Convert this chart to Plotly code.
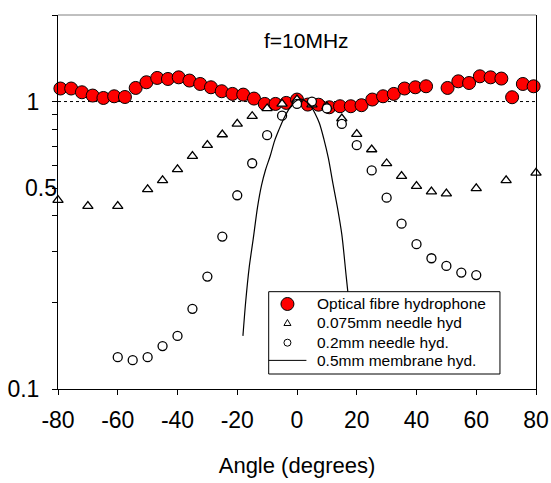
import numpy as np
import plotly.graph_objects as go

# ---- data ----
fibre_x = [-79.2, -75.6, -72.0, -68.4, -64.8, -61.2, -57.6, -54.0, -50.4, -46.8,
           -43.2, -39.6, -36.0, -32.4, -28.8, -25.2, -21.6, -18.0, -14.4, -10.8,
           -7.2, -3.6, 0.0, 3.6, 7.2, 10.8, 14.4, 18.0, 21.6, 25.2,
           28.8, 32.4, 36.0, 39.6, 43.2, 50.4, 54.0, 57.6, 61.2, 64.8,
           68.4, 72.0, 75.6, 79.2]
fibre_y = [1.11, 1.11, 1.077, 1.049, 1.029, 1.043, 1.037, 1.115, 1.167, 1.208,
           1.198, 1.214, 1.183, 1.151, 1.121, 1.086, 1.063, 1.057, 1.024, 0.981,
           0.981, 0.989, 1.016, 0.976, 0.975, 0.955, 0.963, 0.963, 0.971, 1.016,
           1.043, 1.063, 1.11, 1.121, 1.13, 1.115, 1.176, 1.16, 1.224, 1.214,
           1.202, 1.035, 1.151, 1.13]

needle075_x = [-80, -70, -60, -50, -45, -40, -35, -30, -25, -20, -15, -10, -5,
               0, 5, 10, 15, 20, 25, 30, 35, 40, 45, 50, 60, 70, 80]
needle075_y = [0.454, 0.433, 0.433, 0.495, 0.532, 0.581, 0.646, 0.705, 0.768,
               0.836, 0.889, 0.946, 0.981, 1.016, 0.976, 0.96, 0.873, 0.77,
               0.681, 0.609, 0.55, 0.508, 0.486, 0.478, 0.499, 0.532, 0.565]

needle02_x = [-60, -55, -50, -45, -40, -35, -30, -25, -20, -15, -10, -5, 0,
              5, 10, 15, 20, 25, 30, 35, 40, 45, 50, 55, 60]
needle02_y = [0.129, 0.126, 0.129, 0.141, 0.153, 0.190, 0.246, 0.339, 0.472,
              0.610, 0.764, 0.893, 0.981, 1.0, 0.946, 0.836, 0.705, 0.576,
              0.463, 0.376, 0.319, 0.285, 0.268, 0.254, 0.249]

membrane_x = [-18.1, -17.2, -16.0, -14.7, -13.2, -11.9, -10.5, -9.0, -7.5, -6.0,
              -4.5, -3.0, -1.5, 0.0, 1.5, 3.0, 4.5, 6.0, 7.5, 9.0,
              10.5, 12.0, 13.5, 15.0, 16.5, 18.5]
membrane_y = [0.153, 0.20, 0.265, 0.33, 0.43, 0.51, 0.58, 0.645, 0.73, 0.80,
              0.87, 0.93, 0.98, 1.01, 1.02, 1.0, 0.97, 0.91, 0.84, 0.74,
              0.635, 0.52, 0.43, 0.345, 0.245, 0.155]

ref_x = [-80, 80]
ref_y = [1, 1]

x_ticks = [-80, -60, -40, -20, 0, 20, 40, 60, 80]
x_ticktext = ["-80", "-60", "-40", "-20", "0", "20", "40", "60", "80"]
y_ticks = [0.1, 0.2, 0.3, 0.4, 0.5, 0.6, 0.7, 0.8, 0.9, 1, 2]
y_ticktext = ["0.1", "", "", "", "", "", "", "", "", "1", ""]

legend_labels = ["Optical fibre hydrophone", "0.075mm needle hyd",
                 "0.2mm needle hyd.", "0.5mm membrane hyd."]

FONT = "Arial, Liberation Sans, sans-serif"

fig = go.Figure()

fig.add_trace(go.Scatter(x=ref_x, y=ref_y, mode="lines", showlegend=False,
                         line=dict(color="black", width=1, dash="dot"),
                         hoverinfo="skip"))

fig.add_trace(go.Scatter(
    x=fibre_x, y=fibre_y, mode="markers", name=legend_labels[0],
    marker=dict(symbol="circle", size=13, color="#ff0000",
                line=dict(color="black", width=1)),
    cliponaxis=False, showlegend=False))

fig.add_trace(go.Scatter(
    x=needle075_x, y=needle075_y, mode="markers", name=legend_labels[1],
    marker=dict(symbol="triangle-up", size=9, color="white",
                line=dict(color="black", width=1.3)),
    cliponaxis=False, showlegend=False))

fig.add_trace(go.Scatter(
    x=needle02_x, y=needle02_y, mode="markers", name=legend_labels[2],
    marker=dict(symbol="circle", size=9, color="white",
                line=dict(color="black", width=1.3)),
    cliponaxis=False, showlegend=False))

fig.add_trace(go.Scatter(
    x=membrane_x, y=membrane_y, mode="lines", name=legend_labels[3],
    line=dict(color="black", width=1.2, shape="spline", smoothing=0.8),
    showlegend=False))

# ---- hand-built legend box (paper coordinates) ----
LX0, LX1, LY0, LY1 = 0.4408, 0.9246, 0.0401, 0.2602
row_y = [0.2273, 0.1765, 0.1238, 0.0765]
sym_x = 0.480
text_x = 0.5386

shapes = [
    dict(type="line", xref="paper", yref="paper", x0=0, x1=1, y0=1, y1=1,
         line=dict(color="#808080", width=1)),
    dict(type="rect", xref="paper", yref="paper", x0=LX0, x1=LX1, y0=LY0, y1=LY1,
         line=dict(color="black", width=1), fillcolor="white", layer="above"),
    dict(type="circle", xref="paper", yref="paper", xsizemode="pixel",
         ysizemode="pixel", xanchor=sym_x, yanchor=row_y[0],
         x0=-6.5, x1=6.5, y0=-6.5, y1=6.5,
         fillcolor="#ff0000", line=dict(color="black", width=1), layer="above"),
    dict(type="path", xref="paper", yref="paper", xsizemode="pixel",
         ysizemode="pixel", xanchor=sym_x, yanchor=row_y[1],
         path="M -3.5 -2.5 L 3.5 -2.5 L 0 3.5 Z",
         fillcolor="white", line=dict(color="black", width=1), layer="above"),
    dict(type="circle", xref="paper", yref="paper", xsizemode="pixel",
         ysizemode="pixel", xanchor=sym_x, yanchor=row_y[2],
         x0=-3.5, x1=3.5, y0=-3.5, y1=3.5,
         fillcolor="white", line=dict(color="black", width=1), layer="above"),
    dict(type="line", xref="paper", yref="paper", x0=LX0, x1=0.5197,
         y0=row_y[3], y1=row_y[3], line=dict(color="black", width=1),
         layer="above"),
]

annotations = [
    dict(text="f=10MHz", xref="paper", yref="paper", x=0.5204, y=0.9305,
         xanchor="center", yanchor="middle", showarrow=False,
         font=dict(size=21, family=FONT)),
    dict(text="0.5", xref="paper", yref="y", x=0, y=np.log10(0.5),
         xanchor="right", yanchor="middle", xshift=1, showarrow=False,
         font=dict(size=23, family=FONT)),
]
for lab, ry in zip(legend_labels, row_y):
    annotations.append(dict(text=lab, xref="paper", yref="paper", x=text_x, y=ry,
                            xanchor="left", yanchor="middle", showarrow=False,
                            font=dict(size=15.5, family=FONT)))

fig.update_layout(
    width=551, height=483,
    margin=dict(l=58, r=15, t=15, b=94, autoexpand=False),
    paper_bgcolor="white", plot_bgcolor="white",
    font=dict(family=FONT, color="black", size=22),
    showlegend=False,
    xaxis=dict(range=[-80, 80], tickvals=x_ticks, ticktext=x_ticktext,
               ticks="outside", ticklen=5,
               tickcolor="black", showline=True, linecolor="black", linewidth=1,
               mirror=False, showgrid=False, zeroline=False, automargin=False,
               tickfont=dict(size=23), ticklabelstandoff=5,
               title=dict(text="Angle (degrees)", font=dict(size=22), standoff=26)),
    yaxis=dict(type="log", range=[-1, np.log10(2)], tickvals=y_ticks,
               ticktext=y_ticktext, ticks="outside", ticklen=5, tickcolor="black",
               showline=True, linecolor="black", linewidth=1, mirror=True,
               showgrid=False, zeroline=False, automargin=False,
               tickfont=dict(size=23), ticklabelstandoff=8),
    shapes=shapes,
    annotations=annotations,
)

fig.write_html("out.html",
               config={"displayModeBar": False},
               post_script="document.body.style.margin='0';"
                           "document.body.style.overflow='hidden';")
